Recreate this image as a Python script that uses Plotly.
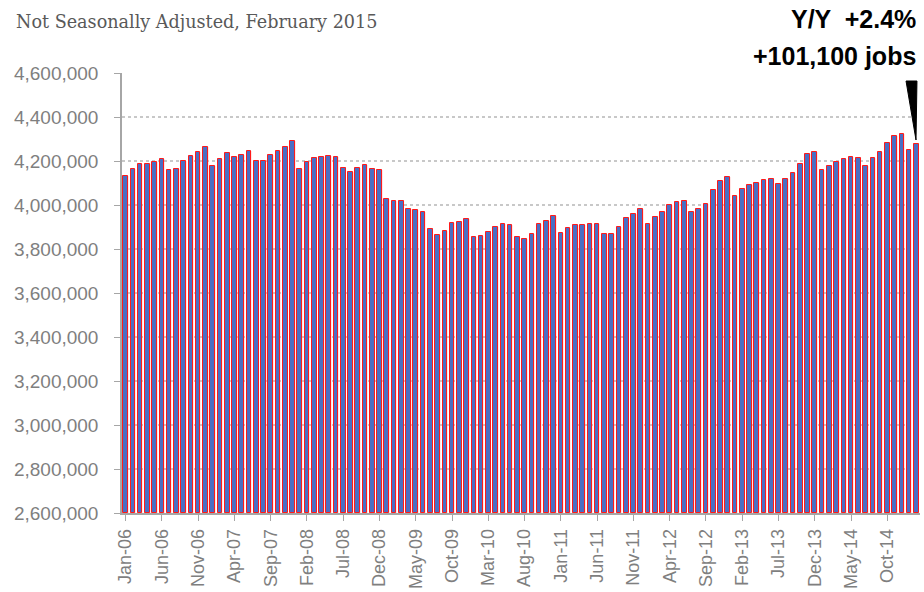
import pandas as pd
import plotly.graph_objects as go

# Monthly employment, Jan 2006 - Feb 2015 (thousands)
months = pd.date_range("2006-01-01", "2015-02-01", freq="MS").strftime("%b-%y").tolist()
jobs_k = [
    4130, 4162, 4186, 4186, 4195, 4208, 4159, 4164, 4200, 4221, 4242, 4264,  # 2006
    4176, 4208, 4236, 4217, 4227, 4244, 4200, 4200, 4227, 4245, 4264, 4289,  # 2007
    4162, 4194, 4212, 4217, 4221, 4218, 4170, 4152, 4170, 4182, 4164, 4158,  # 2008
    4027, 4018, 4017, 3980, 3976, 3967, 3891, 3864, 3882, 3917, 3923, 3935,  # 2009
    3853, 3858, 3877, 3899, 3912, 3908, 3853, 3844, 3867, 3914, 3927, 3949,  # 2010
    3871, 3894, 3908, 3908, 3912, 3912, 3867, 3867, 3900, 3939, 3959, 3980,  # 2011
    3912, 3944, 3968, 3998, 4014, 4018, 3968, 3980, 4003, 4068, 4108, 4126,  # 2012
    4041, 4071, 4089, 4098, 4112, 4117, 4094, 4117, 4144, 4185, 4230, 4239,  # 2013
    4159, 4176, 4195, 4208, 4217, 4212, 4176, 4212, 4239, 4280, 4312, 4321,  # 2014
    4250, 4276,                                                              # 2015
]
jobs = [v * 1000 for v in jobs_k]
tick_labels = months[::5]
y_ticks = list(range(2600000, 4600001, 200000))

subtitle = "Not Seasonally Adjusted, February 2015"
note_line1 = "Y/Y  +2.4%"
note_line2 = "+101,100 jobs"

BASE = 2600000
grey = "#7f7f7f"

fig = go.Figure()
# soft red glow behind each bar
fig.add_trace(go.Bar(x=months, y=[v - BASE for v in jobs], base=BASE, width=0.86,
                     marker=dict(color="rgba(255,110,110,0.18)", line=dict(width=0)),
                     hoverinfo="skip", showlegend=False))
fig.add_trace(go.Bar(x=months, y=[v - BASE for v in jobs], base=BASE, width=0.64,
                     marker=dict(color="#4a6fc4", line=dict(color="#ff1a1a", width=1.0)),
                     showlegend=False))

fig.update_layout(
    width=924, height=592,
    margin=dict(l=122, r=4, t=73, b=79),
    plot_bgcolor="white", paper_bgcolor="white",
    barmode="overlay", bargap=0,
    font=dict(family="Liberation Sans, Arial, sans-serif", color=grey),
)
fig.update_xaxes(type="category", categoryorder="array", categoryarray=months,
                 tickmode="array", tickvals=tick_labels, ticktext=tick_labels,
                 tickangle=-90, tickfont=dict(size=18, color=grey),
                 ticks="outside", ticklen=6, tickcolor="#a6a6a6", ticklabelstandoff=1,
                 showline=True, linecolor="#a6a6a6", linewidth=1.5, automargin=False,
                 showgrid=False, range=[-0.5, len(months) - 0.5])
fig.update_yaxes(range=[BASE, 4600000], tickvals=y_ticks, tickformat=",d",
                 tickfont=dict(size=19, color=grey),
                 ticks="outside", ticklen=6, tickcolor="#a6a6a6", ticklabelstandoff=12,
                 showline=True, linecolor="#a6a6a6", linewidth=1.5, automargin=False,
                 showgrid=True, gridcolor="#c8c8c8", gridwidth=1.5, griddash="dot",
                 zeroline=False)

fig.add_annotation(text=subtitle, xref="paper", yref="paper", x=-0.1353, y=1.116,
                   xanchor="left", yanchor="middle", showarrow=False,
                   font=dict(family="DejaVu Serif, serif", size=17.6, color="#595959"))
fig.add_annotation(text="<b>" + note_line1 + "</b>", xref="paper", yref="paper", x=0.997, y=1.122,
                   xanchor="right", yanchor="middle", showarrow=False,
                   font=dict(family="Liberation Sans, Arial, sans-serif", size=25, color="black"))
fig.add_annotation(text="<b>" + note_line2 + "</b>", xref="paper", yref="paper", x=0.997, y=1.038,
                   xanchor="right", yanchor="middle", showarrow=False,
                   font=dict(family="Liberation Sans, Arial, sans-serif", size=25, color="black"))

# black wedge pointing at the latest bar
fig.add_shape(type="path", xref="paper", yref="paper",
              path="M 0.9825 0.9818 L 0.9962 0.9818 L 0.9950 0.8477 Z",
              fillcolor="black", line=dict(color="black", width=1))

# drop the default body margin so the 924x592 figure fits the window exactly
fig.write_html("out.html", config={"displayModeBar": False},
               post_script="document.body.style.margin='0';")
